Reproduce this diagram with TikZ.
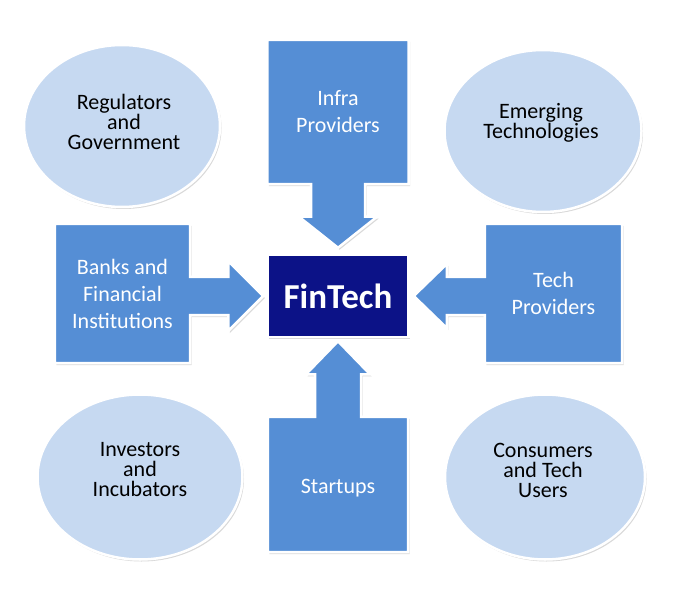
\documentclass[tikz,border=0pt]{standalone}
\usepackage{fontspec}
\setmainfont{Carlito}
\usetikzlibrary{shapes.geometric,positioning,calc,backgrounds,shadows}
\definecolor{boxblue}{RGB}{85,142,213}
\definecolor{ovalblue}{RGB}{198,217,241}
\definecolor{finnavy}{RGB}{12,18,135}

\begin{document}
\begin{tikzpicture}[x=1pt,y=1pt,
  softshadow/.style={drop shadow={shadow xshift=1.5pt,shadow yshift=-2pt,opacity=0.3}},
  oval/.style={ellipse,fill=ovalblue,draw=white,line width=2.5pt,inner sep=0pt,softshadow},
  ovaltext/.style={inner sep=0pt,align=center,font=\fontsize{22}{20}\selectfont},
  boxtext/.style={inner sep=0pt,align=center,text=white,
    font=\fontsize{22}{27}\selectfont},
  blockarrow/.style={fill=boxblue,draw=white,line width=2.5pt,line join=miter,softshadow}]
\useasboundingbox (0,0) rectangle (700,592);

% centre
\node[fill=finnavy,draw=white,line width=2.5pt,minimum width=141pt,minimum height=82pt,
  text=white,font=\bfseries\fontsize{35}{40}\selectfont,softshadow] (fin) at (338,296) {FinTech};

% ovals in the corners
\node[oval,minimum width=196pt,minimum height=162pt] (reg) at (122,466) {};
\node[oval,minimum width=197pt,minimum height=162pt] (emerg) at (543,461) {};
\node[oval,minimum width=205pt,minimum height=165pt] (inv) at (140,115) {};
\node[oval,minimum width=200pt,minimum height=165pt] (cons) at (545,115) {};
\node[ovaltext] (regtext) at ($(reg)+(2,4)$) {Regulators\\and\\Government};
\node[ovaltext] (emergtext) at ($(emerg)+(-2,8)$) {Emerging\\Technologies};
\node[ovaltext] (invtext) at ($(inv)+(0,7)$) {Investors\\and\\Incubators};
\node[ovaltext] (constext) at ($(cons)+(-2,7)$) {Consumers\\and Tech\\Users};

% boxes
\node[boxtext,minimum width=141pt,minimum height=144pt] (infra) at (338,480) {Infra\\Providers};
\node[boxtext,minimum width=135pt,minimum height=139pt] (banks) at (122.5,298.5) {Banks and\\Financial\\Institutions};
\node[boxtext,minimum width=137pt,minimum height=139pt] (tech) at (553.5,298.5) {Tech\\Providers};
\node[boxtext,minimum width=140pt,minimum height=135pt] (start) at (338,107.5) {};
\node[boxtext] (starttext) at ($(start)+(0,-4)$) {Startups};

\coordinate (infratip) at ($(fin.north)+(0,6)$);
\coordinate (bankstip) at ($(fin.west)+(-3,0)$);
\coordinate (techtip) at ($(fin.east)+(4,0)$);
\coordinate (starttip) at ($(fin.south)+(0,-3)$);

% box and arrow as one shape
\begin{scope}[on background layer]
\draw[blockarrow] (infra.north west) -- (infra.north east) -- (infra.south east)
  -- ($(infra.south)+(27,0)$) -- ($(infratip)+(27,31)$) -- ($(infratip)+(39,31)$)
  -- (infratip) -- ($(infratip)+(-39,31)$) -- ($(infratip)+(-27,31)$)
  -- ($(infra.south)+(-27,0)$) -- (infra.south west) -- cycle;
\draw[blockarrow] (banks.north west) -- (banks.north east) -- ($(banks.east|-fin)+(0,19)$)
  -- ($(bankstip)+(-35,19)$) -- ($(bankstip)+(-35,35)$) -- (bankstip)
  -- ($(bankstip)+(-35,-35)$) -- ($(bankstip)+(-35,-19)$) -- ($(banks.east|-fin)+(0,-19)$)
  -- (banks.south east) -- (banks.south west) -- cycle;
\draw[blockarrow] (tech.north east) -- (tech.north west) -- ($(tech.west|-fin)+(0,19)$)
  -- ($(techtip)+(33,19)$) -- ($(techtip)+(33,32)$) -- (techtip)
  -- ($(techtip)+(33,-32)$) -- ($(techtip)+(33,-19)$) -- ($(tech.west|-fin)+(0,-19)$)
  -- (tech.south west) -- (tech.south east) -- cycle;
\draw[blockarrow] (start.south west) -- (start.south east) -- (start.north east)
  -- ($(start.north)+(23,0)$) -- ($(starttip)+(23,-33)$) -- ($(starttip)+(32,-33)$)
  -- (starttip) -- ($(starttip)+(-32,-33)$) -- ($(starttip)+(-23,-33)$)
  -- ($(start.north)+(-23,0)$) -- (start.north west) -- cycle;
\end{scope}
\end{tikzpicture}
\end{document}
